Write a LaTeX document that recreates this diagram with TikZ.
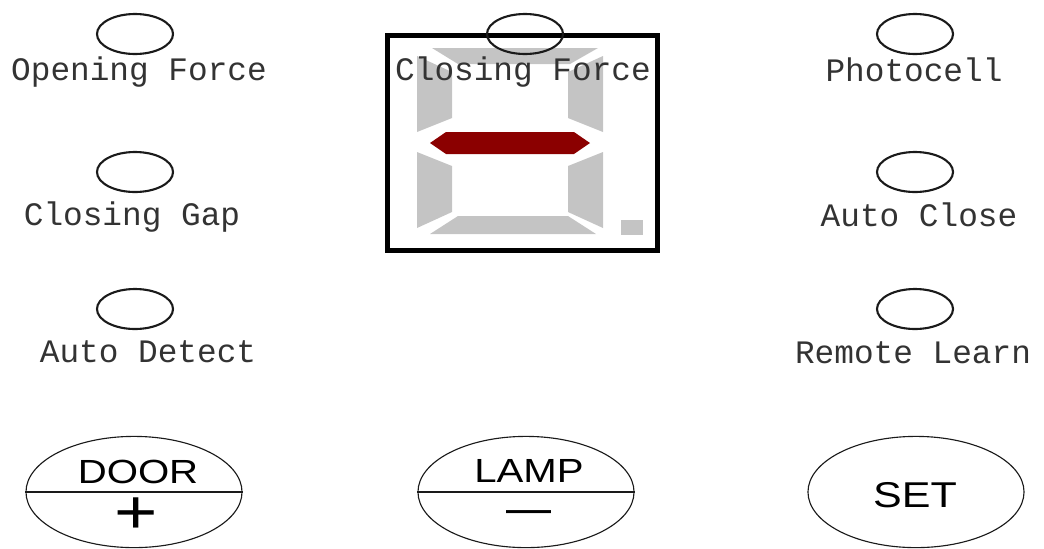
\documentclass[tikz,border=0pt]{standalone}
\usepackage{fontspec}
\usepackage{tikz}
\usetikzlibrary{shapes.geometric}
\newfontfamily\lcdfont{Liberation Mono}
\newfontfamily\keyfont[FakeStretch=1.2]{Liberation Sans}
\definecolor{ink}{HTML}{1A1A1A}
\definecolor{lbltxt}{HTML}{333333}
\definecolor{segoff}{HTML}{C4C4C4}
\definecolor{segon}{HTML}{8B0000}
\tikzset{
  led/.style={draw=ink, ellipse, line width=1.5pt, minimum width=1.9cm, minimum height=1cm, inner sep=0pt},
  lbl/.style={anchor=base, inner sep=0pt, text=lbltxt, font=\lcdfont\fontsize{23.3}{28}\selectfont},
  btn/.style={draw=ink, ellipse, line width=0.8pt, minimum width=5.4cm, minimum height=2.78cm, inner sep=0pt},
  key/.style={anchor=base, inner sep=0pt, text=black, font=\keyfont\fontsize{23.8}{28}\selectfont},
  segbar/.style={fill=segoff, draw=none},
}
\begin{document}
\begin{tikzpicture}[x=0.025cm, y=-0.025cm]
  \useasboundingbox (0,0) rectangle (1044,548);
  % display
  \draw[line width=3.5pt, black] (387.5,35.5) rectangle (657.5,250.5);
  \fill[segbar] (432,48) -- (598,48) -- (570,64) -- (458,64) -- cycle;
  \fill[segbar] (417,56) -- (452,72) -- (452,118) -- (417,132) -- cycle;
  \fill[segbar] (603,56) -- (603,132) -- (568,118) -- (568,72) -- cycle;
  \fill[segbar] (417,152) -- (452,166) -- (452,212) -- (417,228) -- cycle;
  \fill[segbar] (603,152) -- (603,228) -- (568,212) -- (568,166) -- cycle;
  \fill[segbar] (458,216) -- (568,216) -- (596,234) -- (430,234) -- cycle;
  \fill[segbar] (621,220) rectangle (643,235);
  \fill[segon] (430,143) -- (446,132) -- (574,132) -- (590,143) -- (574,154) -- (446,154) -- cycle;
  % indicator leds
  \node[led] (opf) at (135,34) {};
  \node[led] (clf) at (525,34) {};
  \node[led] (pho) at (915,34) {};
  \node[led] (clg) at (135,172) {};
  \node[led] (acl) at (915,172) {};
  \node[led] (adt) at (135,309) {};
  \node[led] (rml) at (915,309) {};
  \node[lbl] (opfl) at (139,80) {Opening Force};
  \node[lbl] (clfl) at (523,80) {Closing Force};
  \node[lbl] (phol) at (914,81) {Photocell};
  \node[lbl] (clgl) at (132,225) {Closing Gap};
  \node[lbl] (acll) at (919,226) {Auto Close};
  \node[lbl] (adtl) at (148,362) {Auto Detect};
  \node[lbl] (rmll) at (913,363) {Remote Learn};
  % keys
  \node[btn] (door) at (134,492) {};
  \node[btn] (lamp) at (526,492) {};
  \node[btn] (set) at (916,492) {};
  \draw[line width=0.8pt, ink] (door.west) -- (door.east);
  \draw[line width=0.8pt, ink] (lamp.west) -- (lamp.east);
  \node[key] (doort) at (138,483) {DOOR};
  \node[key] (lampt) at (529,482) {LAMP};
  \node[key, font=\keyfont\fontsize{25.5}{30}\selectfont] (sett) at (915,507) {SET};
  \node[key, font=\keyfont\fontsize{44}{50}\selectfont, text height=0.5em, text depth=0pt] (plus) at (136,533) {+};
  \node[key, font=\fontspec{Liberation Sans}\fontsize{32}{36}\selectfont] (minus) at (529,523) {—};
\end{tikzpicture}
\end{document}
